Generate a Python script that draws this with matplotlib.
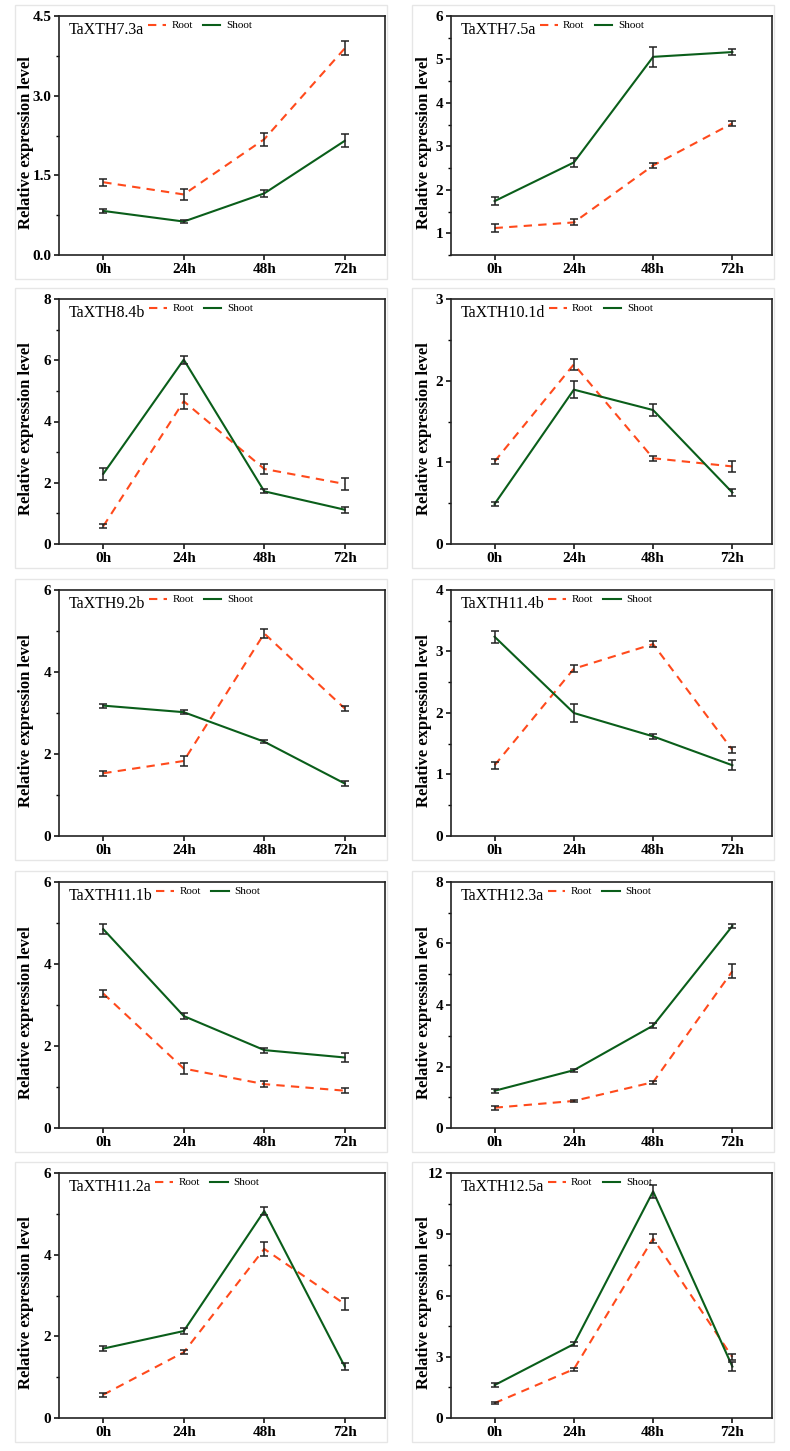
import matplotlib.pyplot as plt
from matplotlib.patches import Rectangle
from matplotlib.ticker import MultipleLocator, AutoMinorLocator

plt.rcParams['font.family'] = ['Liberation Serif', 'DejaVu Serif']

times = ['0h', '24h', '48h', '72h']
genes = ['TaXTH7.3a', 'TaXTH7.5a', 'TaXTH8.4b', 'TaXTH10.1d', 'TaXTH9.2b',
         'TaXTH11.4b', 'TaXTH11.1b', 'TaXTH12.3a', 'TaXTH11.2a', 'TaXTH12.5a']

root = [[1.37, 1.14, 2.18, 3.89],
        [1.12, 1.25, 2.56, 3.53],
        [0.58, 4.66, 2.45, 1.96],
        [1.01, 2.20, 1.05, 0.95],
        [1.53, 1.83, 4.94, 3.11],
        [1.15, 2.72, 3.12, 1.40],
        [3.28, 1.45, 1.07, 0.91],
        [0.66, 0.88, 1.49, 5.10],
        [0.57, 1.61, 4.14, 2.79],
        [0.73, 2.39, 8.79, 2.98]]
root_err = [[0.07, 0.10, 0.12, 0.13],
            [0.10, 0.07, 0.05, 0.06],
            [0.07, 0.25, 0.15, 0.20],
            [0.03, 0.07, 0.03, 0.07],
            [0.06, 0.13, 0.12, 0.05],
            [0.06, 0.06, 0.05, 0.05],
            [0.08, 0.13, 0.07, 0.06],
            [0.06, 0.04, 0.05, 0.22],
            [0.05, 0.05, 0.17, 0.14],
            [0.05, 0.08, 0.20, 0.15]]
shoot = [[0.83, 0.63, 1.16, 2.15],
         [1.74, 2.63, 5.06, 5.17],
         [2.29, 6.02, 1.72, 1.12],
         [0.49, 1.89, 1.64, 0.63],
         [3.18, 3.02, 2.30, 1.28],
         [3.24, 2.00, 1.62, 1.15],
         [4.85, 2.73, 1.90, 1.72],
         [1.21, 1.88, 3.33, 6.57],
         [1.70, 2.13, 5.07, 1.26],
         [1.61, 3.62, 11.10, 2.52]]
shoot_err = [[0.04, 0.03, 0.07, 0.12],
             [0.10, 0.10, 0.23, 0.07],
             [0.20, 0.13, 0.06, 0.10],
             [0.03, 0.10, 0.07, 0.04],
             [0.05, 0.05, 0.03, 0.07],
             [0.10, 0.14, 0.04, 0.08],
             [0.13, 0.08, 0.06, 0.10],
             [0.07, 0.05, 0.07, 0.06],
             [0.06, 0.07, 0.10, 0.08],
             [0.10, 0.10, 0.30, 0.20]]
ylims = [(0, 4.5), (0.5, 6), (0, 8), (0, 3), (0, 6), (0, 4), (0, 6), (0, 8), (0, 6), (0, 12)]
ysteps = [1.5, 1, 2, 1, 2, 1, 2, 2, 2, 3]

W, H = 790, 1451
fig = plt.figure(figsize=(W / 100, H / 100), dpi=100)

col_x = [(59, 385), (451, 772)]
frame_x = [(15, 387), (412, 774)]
label_x = [26, 424]
row_top = [16, 299, 590, 882, 1173]
row_bot = [255, 544, 836, 1128, 1418]

root_c = '#ff4a1c'
shoot_c = '#0a5e1a'
x = list(range(len(times)))

for i, g in enumerate(genes):
    r, c = divmod(i, 2)
    x0, x1 = col_x[c]
    t, b = row_top[r], row_bot[r]
    # light grey panel frame
    fx0, fx1 = frame_x[c]
    fig.add_artist(Rectangle((fx0 / W, 1 - (b + 24) / H), (fx1 - fx0) / W, (b - t + 35) / H,
                             transform=fig.transFigure, fill=False, ec='#e6e6e6', lw=1))
    ax = fig.add_axes([x0 / W, 1 - b / H, (x1 - x0) / W, (b - t) / H])

    ax.plot(x, root[i], color=root_c, lw=1.5, ls=(0, (4, 3)), zorder=2)
    ax.plot(x, shoot[i], color=shoot_c, lw=1.5, zorder=2)
    ax.errorbar(x, root[i], yerr=root_err[i], fmt='none', ecolor='#222222',
                elinewidth=1.1, capsize=3, capthick=1.1, zorder=3)
    ax.errorbar(x, shoot[i], yerr=shoot_err[i], fmt='none', ecolor='#222222',
                elinewidth=1.1, capsize=3, capthick=1.1, zorder=3)

    ax.set_xlim(-0.55, 3.5)
    ax.set_ylim(*ylims[i])
    ax.set_xticks(x)
    ax.set_xticklabels(times, fontweight='bold', fontsize=11)
    ax.yaxis.set_major_locator(MultipleLocator(ysteps[i]))
    ax.yaxis.set_minor_locator(AutoMinorLocator(2))
    if ysteps[i] == 1.5:
        ax.yaxis.set_major_formatter(plt.FormatStrFormatter('%.1f'))
    for lab in ax.get_yticklabels():
        lab.set_fontweight('bold')
        lab.set_fontsize(11)
    ax.tick_params(direction='out', length=3.5, width=1.1, pad=2)
    ax.tick_params(which='minor', direction='out', length=2, width=1)
    for s in ax.spines.values():
        s.set_linewidth(1.2)
        s.set_color('#222222')
    ax.set_ylabel('Relative expression level', fontweight='bold', fontsize=12, va='center')
    ax.yaxis.set_label_coords((label_x[c] - x0) / (x1 - x0), 0.47)

    tx = ax.text(0.03, 0.975, g, transform=ax.transAxes, ha='left', va='top', fontsize=11.5)
    fig.canvas.draw()
    bb = tx.get_window_extent().transformed(ax.transAxes.inverted())
    h1, = ax.plot([], [], color=root_c, lw=1.5, ls=(0, (4, 3)))
    h2, = ax.plot([], [], color=shoot_c, lw=1.5)
    ax.legend([h1, h2], ['Root', 'Shoot'], loc='upper left', bbox_to_anchor=(bb.x1 + 0.005, 0.99),
              ncol=2, frameon=False, fontsize=8, handlelength=1.6, handletextpad=0.5,
              columnspacing=0.9, borderpad=0.2, borderaxespad=0)

fig.savefig('out.png', dpi=100)
